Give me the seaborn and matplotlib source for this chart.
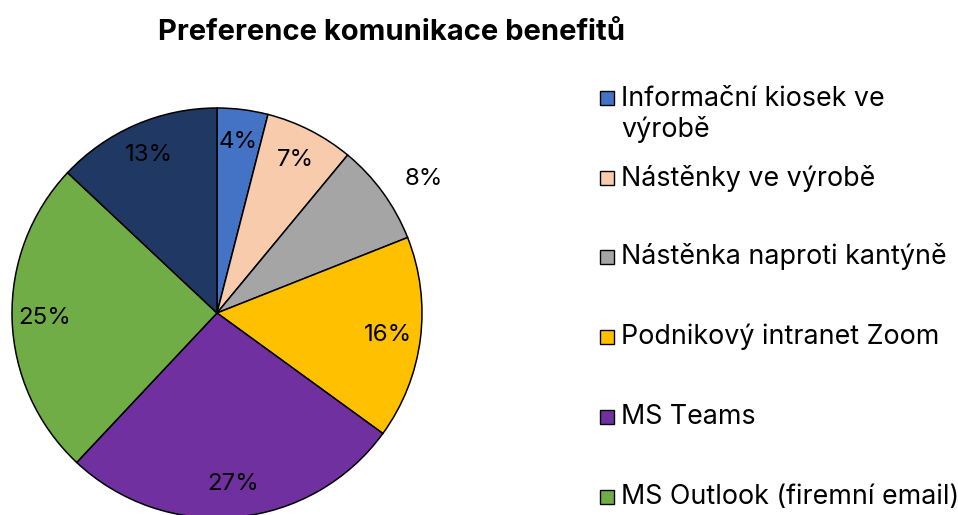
import matplotlib
matplotlib.use("Agg")
import matplotlib.pyplot as plt
import seaborn as sns
import numpy as np
from matplotlib.patches import Rectangle

sns.set_theme(style="white")
plt.rcParams['font.family'] = ['Inter', 'DejaVu Sans']

title = "Preference komunikace benefitů"
channels = ["Informační kiosek ve\nvýrobě", "Nástěnky ve výrobě", "Nástěnka naproti kantýně",
            "Podnikový intranet Zoom", "MS Teams", "MS Outlook (firemní email)", "Jiné"]
shares = [4, 7, 8, 16, 27, 25, 13]
colors = ["#4472C4", "#F8CBAD", "#A5A5A5", "#FFC000", "#7030A0", "#70AD47", "#203864"]

W, H = 958, 515
fig = plt.figure(figsize=(W / 100, H / 100), dpi=100)

# pie centre (217, 313) px, radius 205 px
cx, cy, r = 217, 313, 205
ax = fig.add_axes([(cx - r) / W, (H - cy - r) / H, 2 * r / W, 2 * r / H])
wedges, texts, autotexts = ax.pie(
    shares, colors=colors, startangle=90, counterclock=False,
    autopct=lambda p: f"{p:.0f}%", pctdistance=0.84,
    wedgeprops=dict(edgecolor="black", linewidth=1.1),
    textprops=dict(fontsize=17.3, color="black"))
ax.set_xlim(-1, 1)
ax.set_ylim(-1, 1)
ax.set_aspect("equal")
ax.axis("off")

# the small grey slice has its label pushed outside
w = wedges[2]
ang = np.deg2rad((w.theta1 + w.theta2) / 2 - 3)
autotexts[2].set_position((1.2 * np.cos(ang), 1.2 * np.sin(ang)))

fig.text(392 / W, 1 - 32 / H, title, ha="center", va="center",
         fontsize=21, fontweight="bold", color="black")

# legend (last entry falls below the visible area)
ys = [97.5, 178, 257, 337, 417, 497]
line_px = 32
for y, lab, col in zip(ys, channels, colors):
    fig.patches.append(Rectangle((600 / W, 1 - (y + 7) / H), 14 / W, 14 / H,
                                 transform=fig.transFigure, facecolor=col,
                                 edgecolor="black", linewidth=1.0))
    base = y + 7.5 + lab.count("\n") * line_px
    fig.text(621 / W, 1 - base / H, lab, ha="left", va="baseline",
             fontsize=19.3, linespacing=1.2, color="black")

fig.savefig("out.png", dpi=100)
